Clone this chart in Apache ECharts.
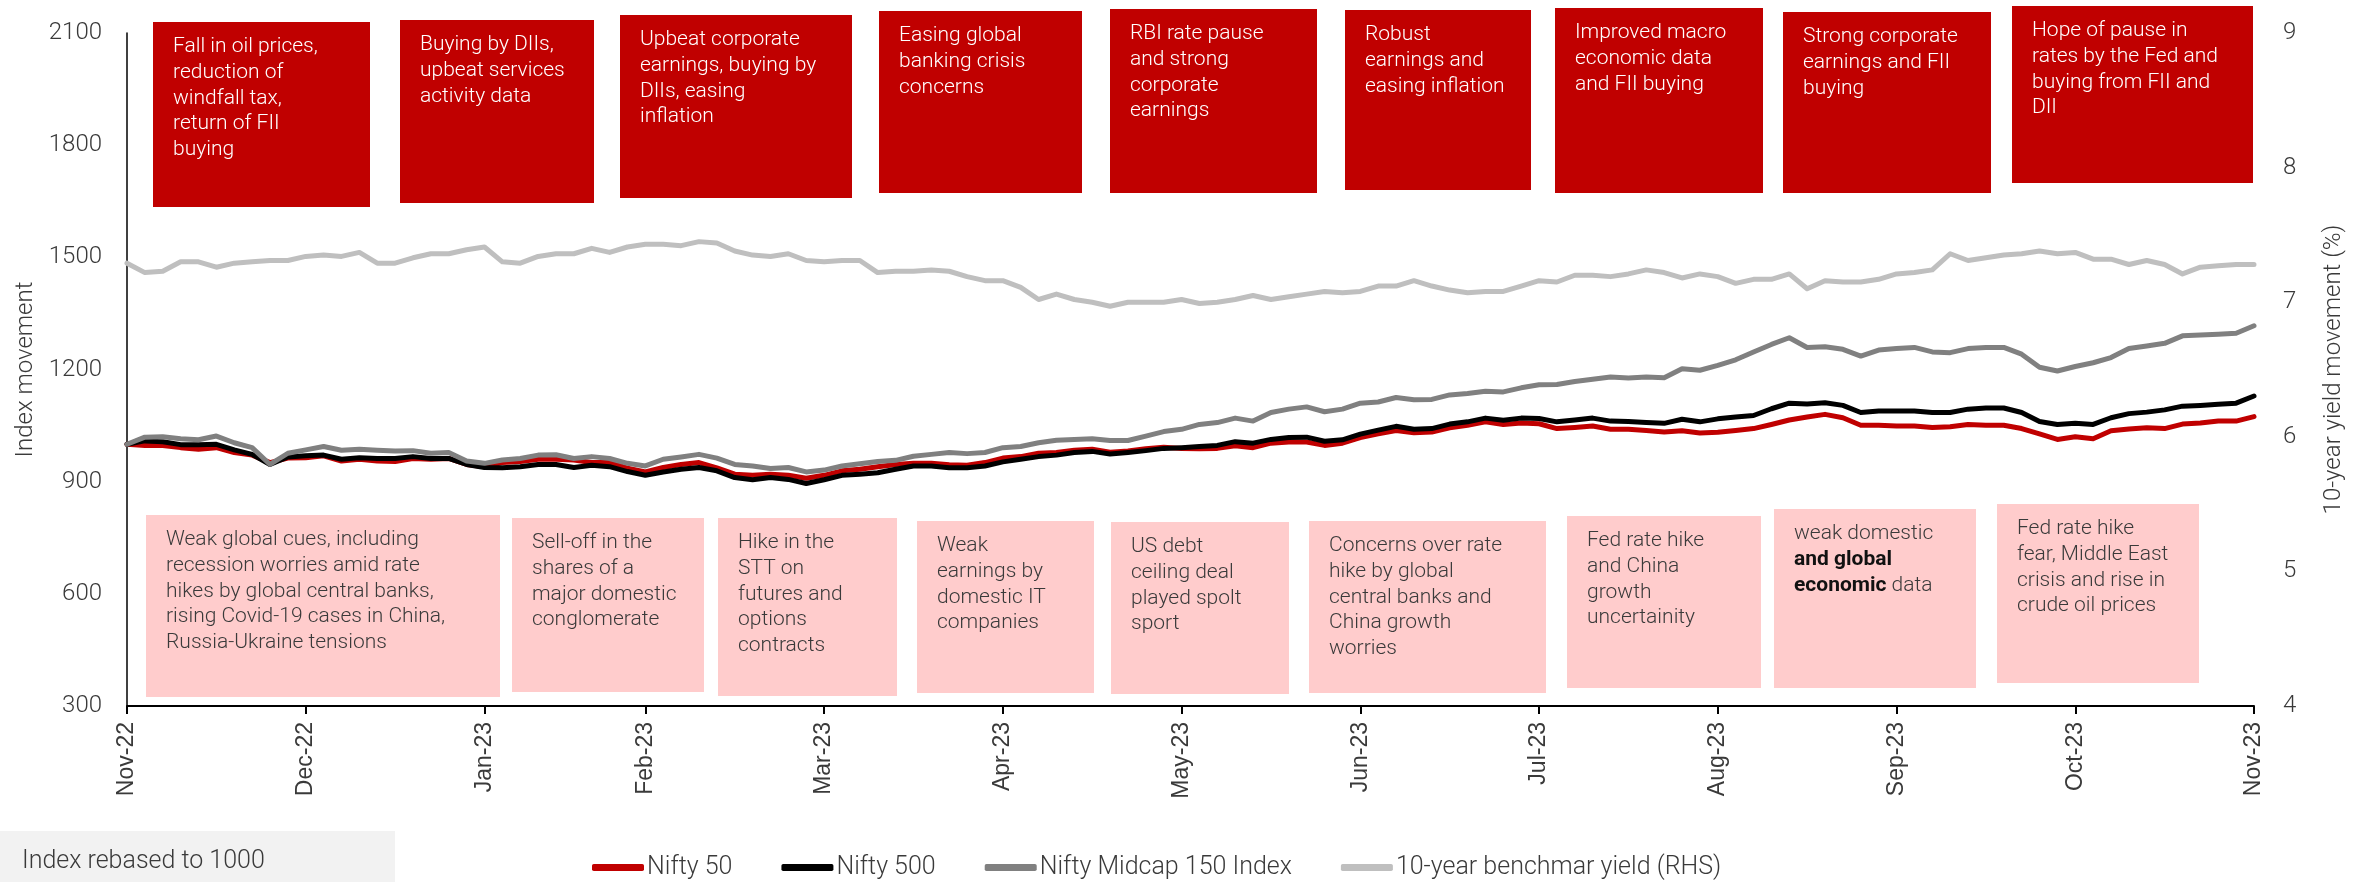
<!DOCTYPE html>
<html><head><meta charset="utf-8">
<script src="https://cdn.jsdelivr.net/npm/echarts/dist/echarts.min.js"></script>
<style>html,body{margin:0;padding:0;background:#fff}#c{width:2354px;height:882px}</style>
</head><body><div id="c"></div><script>
// ---------- DATA ----------
const monthLabels = ['Nov-22','Dec-22','Jan-23','Feb-23','Mar-23','Apr-23','May-23','Jun-23','Jul-23','Aug-23','Sep-23','Oct-23','Nov-23'];
const pointsPerMonth = [10,10,9,10,10,10,10,10,10,10,10,10];

const nifty50 = [1000,997,997,991,987,991,978,971,951,963,964,969,955,960,955,954,962,960,962,946,940,951,954,960,960,958,951,951,936,
 926,938,946,951,937,920,917,920,917,909,917,929,933,940,946,949,949,945,944,951,963,967,976,978,984,987,979,982,988,992,
 989,988,989,996,991,1003,1006,1006,997,1003,1018,1028,1037,1031,1033,1044,1051,1060,1053,1057,1055,1042,1045,1049,1040,1040,1037,1033,1036,1030,
 1032,1037,1042,1053,1065,1073,1080,1071,1051,1051,1049,1049,1045,1047,1053,1051,1051,1042,1028,1013,1020,1015,1036,1041,1044,1042,1054,1057,1062,1062,1074];

const nifty500 = [1000,1009,1007,999,999,1000,985,973,946,966,969,971,960,964,962,962,967,962,962,946,938,937,940,946,946,938,944,940,927,
 917,926,933,938,929,911,905,911,906,895,905,917,920,924,933,942,942,937,937,942,953,960,967,971,978,981,974,978,983,989,
 991,994,997,1007,1003,1013,1018,1019,1008,1012,1027,1038,1048,1040,1042,1054,1060,1070,1064,1070,1069,1060,1065,1070,1062,1061,1058,1056,1067,1060,
 1068,1073,1077,1095,1110,1108,1111,1104,1085,1089,1089,1089,1085,1085,1094,1097,1097,1085,1061,1053,1056,1053,1071,1082,1086,1092,1102,1104,1107,1110,1129];

const midcap150 = [1000,1019,1020,1015,1012,1022,1004,991,946,976,985,994,984,987,984,982,983,976,978,955,949,958,962,971,972,962,967,962,949,
 942,960,966,973,963,946,942,935,938,926,931,942,948,954,957,968,973,978,975,978,991,994,1004,1011,1013,1015,1010,1010,1022,1034,
 1040,1053,1058,1070,1062,1085,1094,1100,1087,1094,1110,1113,1125,1119,1120,1132,1136,1142,1140,1151,1159,1160,1168,1174,1180,1177,1180,1178,1202,1198,
 1211,1226,1247,1267,1285,1259,1261,1254,1236,1252,1256,1259,1247,1245,1256,1259,1259,1241,1206,1196,1208,1218,1232,1256,1263,1270,1290,1292,1294,1297,1317];

const gsecYield = [7.29,7.22,7.23,7.30,7.30,7.26,7.29,7.30,7.31,7.31,7.34,7.35,7.34,7.37,7.29,7.29,7.33,7.36,7.36,7.39,7.41,7.30,7.29,7.34,7.36,7.36,7.40,7.37,7.41,
 7.43,7.43,7.42,7.45,7.44,7.38,7.35,7.34,7.36,7.31,7.30,7.31,7.31,7.22,7.23,7.23,7.24,7.23,7.19,7.16,7.16,7.11,7.02,7.06,7.02,7.00,6.97,7.00,7.00,7.00,
 7.02,6.99,7.00,7.02,7.05,7.02,7.04,7.06,7.08,7.07,7.08,7.12,7.12,7.16,7.12,7.09,7.07,7.08,7.08,7.12,7.16,7.15,7.20,7.20,7.19,7.21,7.24,7.22,7.18,7.21,
 7.19,7.14,7.17,7.17,7.21,7.10,7.16,7.15,7.15,7.17,7.21,7.22,7.24,7.36,7.31,7.33,7.35,7.36,7.38,7.36,7.37,7.32,7.32,7.28,7.31,7.28,7.21,7.26,7.27,7.28,7.28];

const seriesNames = ['Nifty 50','Nifty 500','Nifty Midcap 150 Index','10-year benchmar yield (RHS)'];
const leftAxis = {min:300, max:2100, interval:300, name:'Index movement'};
const rightAxis = {min:4, max:9, interval:1, name:'10-year yield movement (%)'};

const upNotes = [
 'Fall in oil prices,\nreduction of\nwindfall tax,\nreturn of FII\nbuying',
 'Buying by DIIs,\nupbeat services\nactivity data',
 'Upbeat corporate\nearnings, buying by\nDIIs, easing\ninflation',
 'Easing global\nbanking crisis\nconcerns',
 'RBI rate pause\nand strong\ncorporate\nearnings',
 'Robust\nearnings and\neasing inflation',
 'Improved macro\neconomic data\nand FII buying',
 'Strong corporate\nearnings and FII\nbuying',
 'Hope of pause in\nrates by the Fed and\nbuying from FII and\nDII'
];
const downNotes = [
 'Weak global cues, including\nrecession worries amid rate\nhikes by global central banks,\nrising Covid-19 cases in China,\nRussia-Ukraine tensions',
 'Sell-off in the\nshares of a\nmajor domestic\nconglomerate',
 'Hike in the\nSTT on\nfutures and\noptions\ncontracts',
 'Weak\nearnings by\ndomestic IT\ncompanies',
 'US debt\nceiling deal\nplayed spolt\nsport',
 'Concerns over rate\nhike by global\ncentral banks and\nChina growth\nworries',
 'Fed rate hike\nand China\ngrowth\nuncertainity',
 'weak domestic\n{b|and global}\n{b|economic} data',
 'Fed rate hike\nfear, Middle East\ncrisis and rise in\ncrude oil prices'
];
const footNote = 'Index rebased to 1000';

// ---------- LAYOUT (pixels) ----------
const upBoxes = [[153,22,217,185],[400,20,194,183],[620,15,232,183],[879,11,203,182],[1110,9,207,184],[1345,10,186,180],[1555,8,208,185],[1783,12,208,181],[2012,6,241,177]];
const downBoxes = [[146,515,354,182],[512,518,192,174],[718,518,179,178],[917,521,177,172],[1111,522,178,172],[1309,521,237,172],[1567,516,194,172],[1774,509,202,179],[1997,504,202,179]];

// ---------- BUILD ----------
const categories = [];
pointsPerMonth.forEach((n, m) => { for (let k = 0; k < n; k++) categories.push(monthLabels[m] + '|' + k); });
categories.push(monthLabels[monthLabels.length - 1] + '|0');
const isMonthStart = (idx, val) => String(val).endsWith('|0');

const LIGHT = 'Roboto';
const TXT = '#3a3a3a';
const graphics = [];
upBoxes.forEach((b, i) => {
  graphics.push({type:'rect', shape:{x:b[0], y:b[1], width:b[2], height:b[3]}, style:{fill:'#C00000'}, z:10});
  graphics.push({type:'text', x:b[0]+20, y:b[1]+12, z:11, style:{text:upNotes[i], fill:'#ffffff', fontFamily:LIGHT, fontWeight:300, fontSize:21, lineHeight:25.7}});
});
downBoxes.forEach((b, i) => {
  graphics.push({type:'rect', shape:{x:b[0], y:b[1], width:b[2], height:b[3]}, style:{fill:'#FFCCCC'}, z:10});
  graphics.push({type:'text', x:b[0]+20, y:b[1]+12, z:11, style:{text:downNotes[i], fill:TXT, fontFamily:LIGHT, fontWeight:300, fontSize:21, lineHeight:25.7,
    rich:{b:{fontFamily:LIGHT, fontWeight:'bold', fontSize:21, lineHeight:25.7, fill:'#111111'}}}});
});
graphics.push({type:'rect', shape:{x:0, y:831, width:395, height:51}, style:{fill:'#F2F2F2'}, z:10});
graphics.push({type:'text', x:22, y:862, z:11, style:{text:footNote, fill:TXT, fontFamily:LIGHT, fontWeight:300, fontSize:25, verticalAlign:'middle'}});

const colors = ['#C00000','#000000','#808080','#BFBFBF'];
const values = [nifty50, nifty500, midcap150, gsecYield];

const chart = echarts.init(document.getElementById('c'), null, {renderer:'canvas'});
chart.setOption({
  animation:false,
  backgroundColor:'#ffffff',
  grid:{left:127, right:100, top:33, bottom:176, containLabel:false},
  legend:{
    left:592, top:855, padding:0, itemWidth:52, itemHeight:7, itemGap:49, icon:'roundRect',
    textStyle:{fontFamily:LIGHT, fontWeight:300, fontSize:25, color:TXT, padding:[0,0,0,-2]},
    data:seriesNames
  },
  xAxis:{
    type:'category', data:categories, boundaryGap:false,
    axisLine:{show:true, lineStyle:{color:'#000', width:2}},
    axisTick:{show:true, interval:isMonthStart, length:8, lineStyle:{color:'#000', width:2}},
    axisLabel:{interval:isMonthStart, rotate:90, margin:16, formatter:v => v.split('|')[0],
      fontFamily:'Liberation Sans', fontSize:23, color:TXT},
    splitLine:{show:false}
  },
  yAxis:[
    {type:'value', min:leftAxis.min, max:leftAxis.max, interval:leftAxis.interval, position:'left',
     name:leftAxis.name, nameLocation:'middle', nameGap:80, nameRotate:90,
     nameTextStyle:{fontFamily:LIGHT, fontWeight:300, fontSize:24, color:TXT},
     axisLine:{show:true, lineStyle:{color:'#000', width:1.5}}, axisTick:{show:false},
     axisLabel:{margin:25, formatter:v => String(v), fontFamily:LIGHT, fontWeight:300, fontSize:24, color:TXT},
     splitLine:{show:false}},
    {type:'value', min:rightAxis.min, max:rightAxis.max, interval:rightAxis.interval, position:'right',
     name:rightAxis.name, nameLocation:'middle', nameGap:68, nameRotate:90,
     nameTextStyle:{fontFamily:LIGHT, fontWeight:300, fontSize:24, color:TXT},
     axisLine:{show:false}, axisTick:{show:false},
     axisLabel:{margin:29, formatter:v => String(v), fontFamily:LIGHT, fontWeight:300, fontSize:24, color:TXT},
     splitLine:{show:false}}
  ],
  graphic:graphics,
  series: seriesNames.map((n, i) => ({
    name:n, type:'line', data:values[i], yAxisIndex: i === 3 ? 1 : 0,
    showSymbol:false, symbol:'none', smooth:false,
    lineStyle:{color:colors[i], width:5, join:'round', cap:'round'},
    itemStyle:{color:colors[i]}, z: 2 + i
  }))
});
</script></body></html>
